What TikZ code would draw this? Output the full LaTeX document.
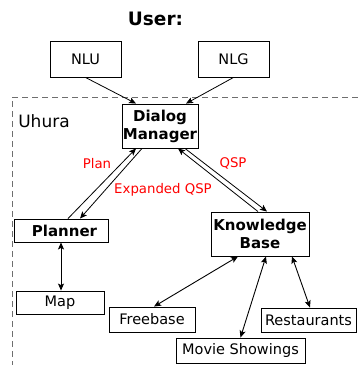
\documentclass[tikz,border=0pt]{standalone}
\usepackage{fontspec}
\setmainfont{DejaVu Sans}
\usepackage{tikz}
\usetikzlibrary{arrows.meta, calc}
\definecolor{FrameGray}{RGB}{110,110,110}
\definecolor{LabelRed}{RGB}{255,0,0}

\tikzset{
  box/.style={draw, line width=0.9pt, inner sep=0pt, align=center,
              font=\fontsize{14.5}{17}\selectfont},
  boldbox/.style={box, font=\fontsize{15}{18}\selectfont\bfseries},
  link/.style={line width=0.8pt, -{Stealth[length=7pt,width=6pt,inset=1.5pt]}},
  duplex/.style={line width=0.9pt,
                 {Stealth[length=7pt,width=6pt,inset=1.5pt]}-{Stealth[length=7pt,width=6pt,inset=1.5pt]}},
  msg/.style={text=LabelRed, font=\fontsize{13.3}{15}\selectfont},
}

\begin{document}
\begin{tikzpicture}[x=1pt, y=-1pt]
\useasboundingbox (0,0) rectangle (358,365);

% Outer user layer
\node[font=\fontsize{18.5}{20}\selectfont\bfseries] (user) at (155.5,19) {User:};
\node[box, minimum width=71pt, minimum height=36pt] (nlu) at (85.5,59) {NLU};
\node[box, minimum width=71pt, minimum height=36pt] (nlg) at (233.5,59) {NLG};

% Uhura system frame
\draw[FrameGray, line width=1pt, dash pattern=on 6pt off 4pt]
  (358,97) -- (12,97) -- (12,365);
\node[font=\fontsize{17}{19}\selectfont] (uhura) at (44,121) {Uhura};

% Core components
\node[boldbox, minimum width=76pt, minimum height=44pt] (dm) at (160,126)
  {Dialog\\Manager};
\node[boldbox, minimum width=94pt, minimum height=23pt] (planner) at (61,230.5)
  {\hspace{7pt}Planner};
\node[boldbox, minimum width=98pt, minimum height=44pt] (kb) at (260,234)
  {Knowledge\\Base};

% Data sources
\node[box, minimum width=88pt, minimum height=23pt] (map) at (60,302.5) {Map};
\node[box, minimum width=86pt, minimum height=25pt] (freebase) at (152,319.5) {Freebase};
\node[box, minimum width=129pt, minimum height=25pt] (movies) at (240.5,350.5) {Movie Showings};
\node[box, minimum width=95pt, minimum height=24pt] (restaurants) at (308.5,320) {Restaurants};

% Input and output to the dialog manager
\draw[link] (nlu.south) -- ($(dm.north)+(-24,0)$);
\draw[link] (nlg.south) -- ($(dm.north)+(26,0)$);

% Planner exchange
\draw[link] ($(planner.north)+(7,0)$) -- ($(dm.south)+(-24,0)$);
\draw[link] ($(dm.south)+(-18,0)$) -- ($(planner.north)+(19,0)$);
\node[msg] (plan) at (97,164) {Plan};
\node[msg] (expanded) at (163,190) {Expanded QSP};

% Knowledge base exchange
\draw[link] ($(kb.north)+(-2,0)$) -- ($(dm.south)+(18,0)$);
\draw[link] ($(dm.south)+(25,0)$) -- ($(kb.north)+(7,0)$);
\node[msg] (qsp) at (233,163) {QSP};

% Lookups
\draw[duplex] (planner.south) -- (planner.south |- map.north);
\draw[duplex] ($(kb.south)+(-22,0)$) -- ($(freebase.north)+(2,0)$);
\draw[duplex] ($(kb.south)+(6,0)$) -- (movies.north);
\draw[duplex] ($(kb.south)+(32,0)$) -- ($(restaurants.north)+(1.5,0)$);

\end{tikzpicture}
\end{document}
